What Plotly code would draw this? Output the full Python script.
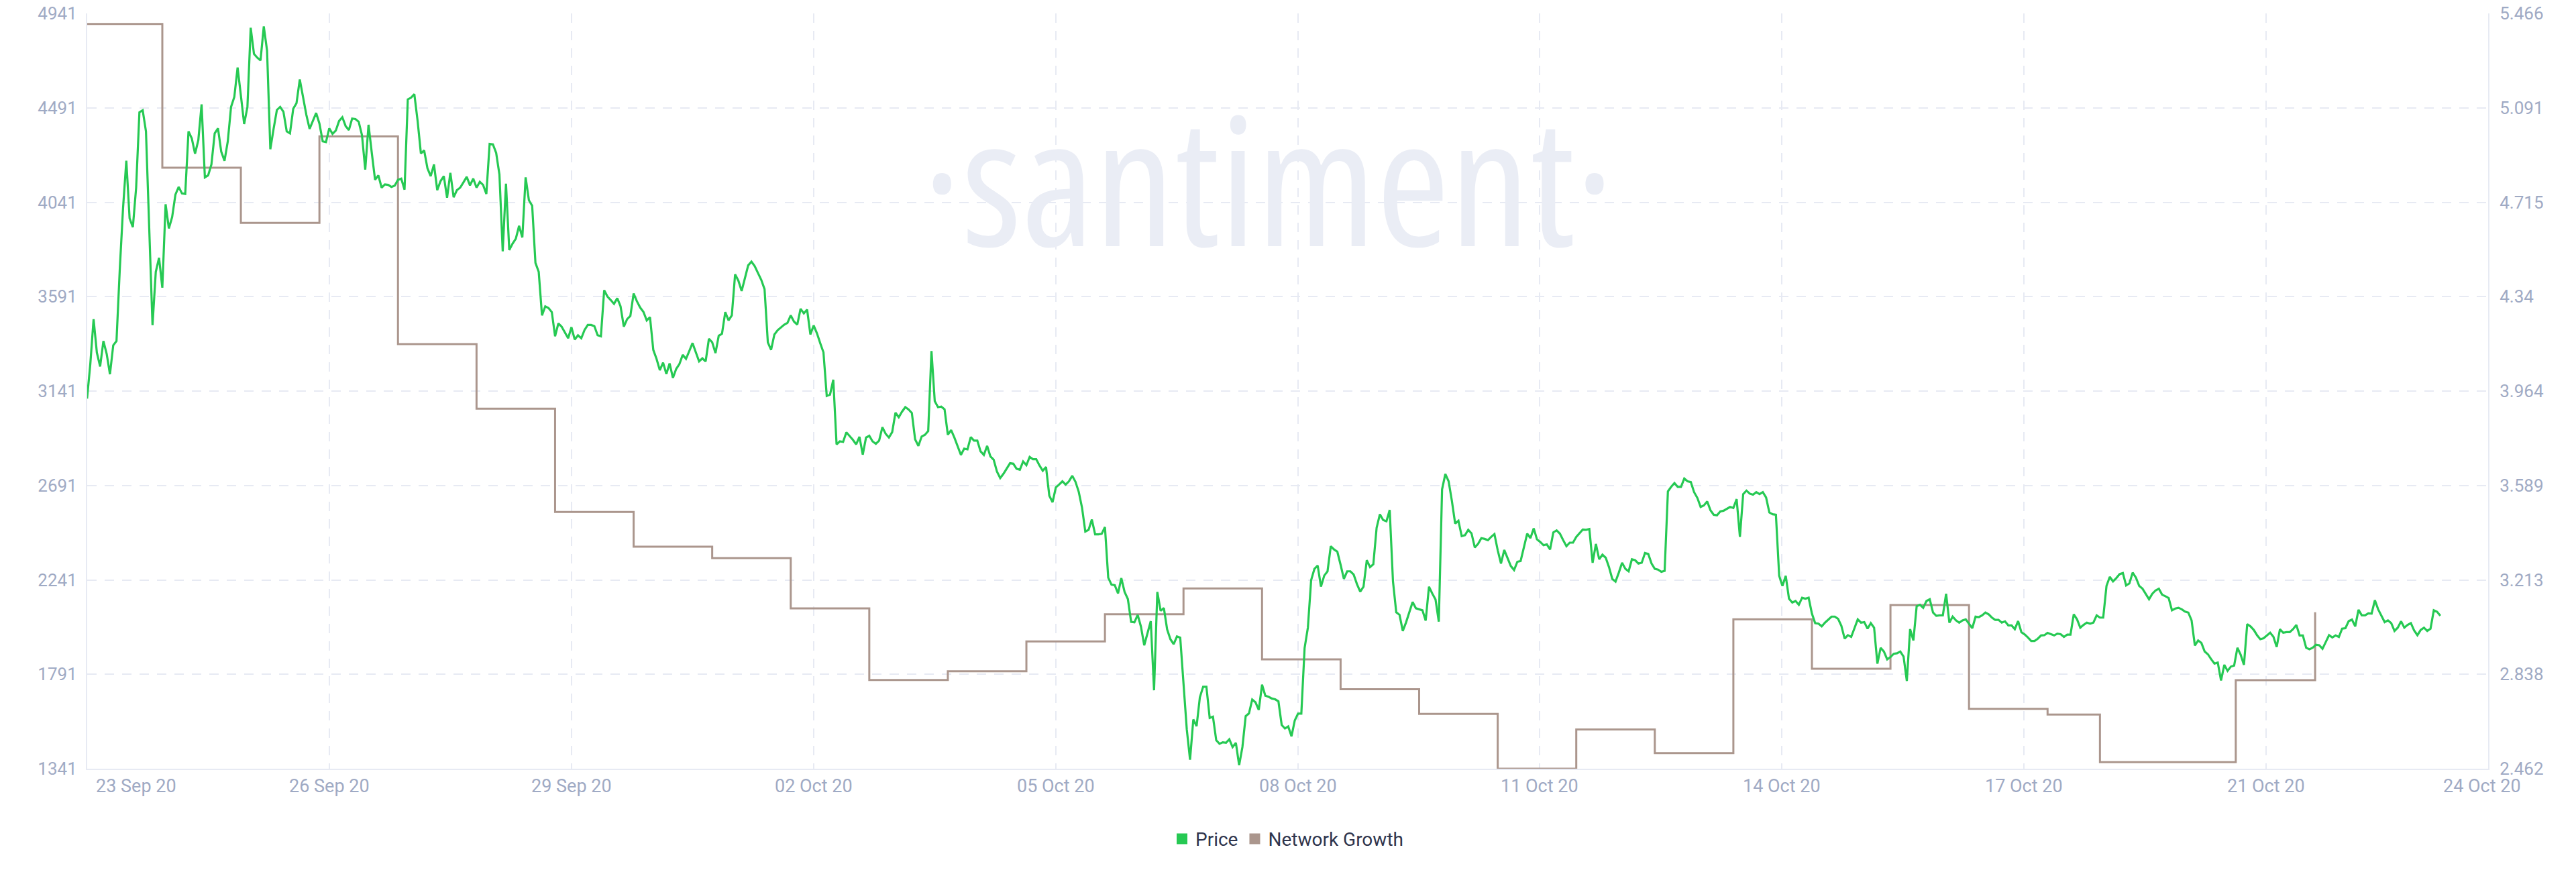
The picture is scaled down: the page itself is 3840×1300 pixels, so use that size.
import pandas as pd
import plotly.graph_objects as go

# ---------------- data ----------------
price_start = "2020-09-23 01:00"   # hourly price series start
price = [
    3.934, 4.072, 4.250, 4.117, 4.062, 4.163, 4.112, 4.031, 4.146, 4.163, 4.448, 4.692,
    4.880, 4.651, 4.616, 4.773, 5.073, 5.081, 4.997, 4.580, 4.226, 4.438, 4.494, 4.375,
    4.707, 4.611, 4.656, 4.745, 4.776, 4.750, 4.748, 4.997, 4.969, 4.908, 4.962, 5.104,
    4.814, 4.822, 4.865, 4.989, 5.009, 4.916, 4.880, 4.957, 5.094, 5.134, 5.251, 5.140,
    5.026, 5.094, 5.409, 5.305, 5.290, 5.279, 5.414, 5.318, 4.926, 5.007, 5.082, 5.094,
    5.075, 4.997, 4.989, 5.087, 5.109, 5.203, 5.134, 5.063, 5.007, 5.038, 5.070, 5.028,
    4.957, 4.954, 5.009, 4.987, 5.000, 5.038, 5.053, 5.018, 5.002, 5.048, 5.046, 5.035,
    4.982, 4.845, 5.023, 4.911, 4.804, 4.822, 4.773, 4.786, 4.784, 4.776, 4.781, 4.804,
    4.809, 4.765, 5.124, 5.131, 5.145, 5.038, 4.909, 4.921, 4.850, 4.819, 4.865, 4.763,
    4.799, 4.819, 4.733, 4.832, 4.735, 4.763, 4.773, 4.794, 4.816, 4.782, 4.809, 4.773,
    4.796, 4.784, 4.748, 4.947, 4.945, 4.911, 4.825, 4.520, 4.789, 4.525, 4.550, 4.570,
    4.621, 4.575, 4.814, 4.723, 4.701, 4.474, 4.438, 4.265, 4.301, 4.294, 4.278, 4.182,
    4.233, 4.220, 4.196, 4.174, 4.218, 4.169, 4.186, 4.174, 4.207, 4.227, 4.227, 4.222,
    4.186, 4.182, 4.365, 4.340, 4.326, 4.311, 4.333, 4.301, 4.220, 4.250, 4.263, 4.352,
    4.321, 4.296, 4.279, 4.245, 4.258, 4.128, 4.092, 4.047, 4.077, 4.032, 4.074, 4.016,
    4.052, 4.072, 4.108, 4.092, 4.123, 4.155, 4.118, 4.082, 4.094, 4.082, 4.172, 4.158,
    4.115, 4.184, 4.192, 4.278, 4.245, 4.265, 4.428, 4.403, 4.362, 4.413, 4.464, 4.479,
    4.461, 4.433, 4.406, 4.369, 4.158, 4.128, 4.189, 4.206, 4.217, 4.228, 4.235, 4.265,
    4.240, 4.228, 4.291, 4.273, 4.288, 4.189, 4.225, 4.194, 4.155, 4.118, 3.945, 3.950,
    4.009, 3.752, 3.764, 3.762, 3.800, 3.786, 3.770, 3.752, 3.782, 3.711, 3.779, 3.786,
    3.764, 3.754, 3.767, 3.820, 3.794, 3.779, 3.801, 3.878, 3.860, 3.882, 3.900, 3.891,
    3.877, 3.772, 3.746, 3.783, 3.790, 3.805, 4.123, 3.924, 3.900, 3.902, 3.891, 3.790,
    3.809, 3.779, 3.746, 3.710, 3.735, 3.732, 3.781, 3.767, 3.767, 3.724, 3.710, 3.746,
    3.704, 3.691, 3.644, 3.618, 3.635, 3.655, 3.677, 3.675, 3.655, 3.651, 3.684, 3.669,
    3.702, 3.693, 3.693, 3.668, 3.647, 3.662, 3.548, 3.522, 3.581, 3.592, 3.605, 3.592,
    3.605, 3.627, 3.603, 3.563, 3.500, 3.405, 3.412, 3.453, 3.394, 3.394, 3.396, 3.423,
    3.222, 3.194, 3.192, 3.159, 3.220, 3.165, 3.137, 3.046, 3.044, 3.074, 3.027, 2.953,
    3.000, 3.049, 2.774, 3.165, 3.090, 3.101, 3.016, 2.977, 2.957, 2.988, 2.983, 2.790,
    2.619, 2.498, 2.658, 2.631, 2.746, 2.788, 2.788, 2.664, 2.669, 2.575, 2.561, 2.567,
    2.565, 2.579, 2.548, 2.565, 2.476, 2.548, 2.671, 2.682, 2.737, 2.726, 2.696, 2.796,
    2.752, 2.748, 2.741, 2.738, 2.730, 2.636, 2.622, 2.630, 2.591, 2.654, 2.681, 2.681,
    2.942, 3.023, 3.212, 3.257, 3.270, 3.186, 3.230, 3.247, 3.347, 3.334, 3.325, 3.273,
    3.217, 3.247, 3.247, 3.234, 3.196, 3.166, 3.186, 3.291, 3.264, 3.275, 3.420, 3.474,
    3.451, 3.446, 3.491, 3.207, 3.084, 3.074, 3.010, 3.044, 3.088, 3.125, 3.100, 3.097,
    3.092, 3.051, 3.186, 3.159, 3.135, 3.047, 3.573, 3.634, 3.605, 3.527, 3.437, 3.448,
    3.387, 3.391, 3.412, 3.398, 3.342, 3.356, 3.379, 3.376, 3.371, 3.384, 3.395, 3.331,
    3.278, 3.332, 3.301, 3.268, 3.252, 3.285, 3.288, 3.347, 3.397, 3.379, 3.418, 3.374,
    3.364, 3.351, 3.354, 3.334, 3.402, 3.410, 3.397, 3.371, 3.347, 3.361, 3.361, 3.384,
    3.400, 3.413, 3.412, 3.415, 3.281, 3.356, 3.295, 3.313, 3.301, 3.264, 3.217, 3.206,
    3.242, 3.281, 3.257, 3.247, 3.295, 3.291, 3.278, 3.281, 3.320, 3.316, 3.278, 3.257,
    3.254, 3.245, 3.249, 3.565, 3.583, 3.598, 3.583, 3.583, 3.616, 3.605, 3.602, 3.562,
    3.539, 3.503, 3.509, 3.525, 3.490, 3.472, 3.470, 3.485, 3.488, 3.496, 3.503, 3.499,
    3.534, 3.384, 3.554, 3.568, 3.556, 3.552, 3.562, 3.554, 3.562, 3.541, 3.481, 3.474,
    3.472, 3.229, 3.189, 3.229, 3.138, 3.123, 3.129, 3.114, 3.142, 3.138, 3.142, 3.079,
    3.041, 3.039, 3.028, 3.043, 3.056, 3.067, 3.067, 3.058, 3.030, 2.979, 2.993, 2.986,
    3.021, 3.056, 3.043, 3.045, 3.019, 3.041, 3.023, 2.880, 2.943, 2.928, 2.897, 2.906,
    2.919, 2.921, 2.928, 2.908, 2.811, 3.017, 2.972, 3.108, 3.114, 3.102, 3.129, 3.136,
    3.083, 3.070, 3.072, 3.072, 3.158, 3.043, 3.067, 3.052, 3.043, 3.052, 3.056, 3.039,
    3.021, 3.067, 3.065, 3.072, 3.083, 3.076, 3.063, 3.054, 3.054, 3.043, 3.048, 3.032,
    3.032, 3.017, 3.049, 3.005, 2.996, 2.984, 2.970, 2.970, 2.979, 2.992, 2.993, 3.002,
    2.997, 2.992, 2.999, 2.997, 2.986, 2.995, 2.995, 3.076, 3.056, 3.023, 3.034, 3.043,
    3.039, 3.043, 3.072, 3.063, 3.063, 3.189, 3.225, 3.207, 3.220, 3.236, 3.240, 3.191,
    3.199, 3.242, 3.222, 3.189, 3.178, 3.158, 3.136, 3.158, 3.171, 3.178, 3.154, 3.148,
    3.141, 3.092, 3.099, 3.102, 3.096, 3.087, 3.083, 3.052, 2.952, 2.972, 2.962, 2.928,
    2.917, 2.897, 2.880, 2.884, 2.813, 2.875, 2.851, 2.868, 2.872, 2.943, 2.915, 2.875,
    3.037, 3.028, 3.014, 2.993, 2.977, 2.981, 2.992, 3.003, 2.987, 2.946, 3.017, 3.003,
    3.005, 3.005, 3.017, 3.034, 2.992, 2.992, 2.943, 2.937, 2.943, 2.955, 2.953, 2.939,
    2.966, 2.993, 2.984, 2.992, 2.986, 3.019, 3.021, 3.049, 3.055, 3.028, 3.094, 3.072,
    3.072, 3.080, 3.079, 3.132, 3.096, 3.072, 3.045, 3.052, 3.041, 3.010, 3.023, 3.048,
    3.023, 3.034, 3.041, 3.012, 2.993, 3.014, 3.023, 3.010, 3.019, 3.092, 3.086, 3.070,
]

ng_dates = [
    "2020-09-23 01:00", "2020-09-24 00:00", "2020-09-25 00:00", "2020-09-26 00:00", "2020-09-27 00:00",
    "2020-09-28 00:00", "2020-09-29 00:00", "2020-09-30 00:00", "2020-10-01 00:00", "2020-10-02 00:00",
    "2020-10-03 00:00", "2020-10-04 00:00", "2020-10-05 00:00", "2020-10-06 00:00", "2020-10-07 00:00",
    "2020-10-08 00:00", "2020-10-09 00:00", "2020-10-10 00:00", "2020-10-11 00:00", "2020-10-12 00:00",
    "2020-10-13 00:00", "2020-10-14 00:00", "2020-10-15 00:00", "2020-10-16 00:00", "2020-10-17 00:00",
    "2020-10-18 00:00", "2020-10-18 16:00", "2020-10-20 09:30", "2020-10-21 09:45",
]
ng_values = [
    4891, 4206, 3943, 4355, 3365, 3057, 2565, 2399, 2345, 2105,
    1764, 1805, 1948, 2077, 2200, 1862, 1720, 1602, 1341, 1528,
    1415, 2053, 1817, 2121, 1626, 1599, 1372, 1763, 2087,
]

left_tick_labels = ["1341", "1791", "2241", "2691", "3141", "3591", "4041", "4491", "4941"]
right_tick_labels = ["2.462", "2.838", "3.213", "3.589", "3.964", "4.34", "4.715", "5.091", "5.466"]
x_tick_labels = ["23 Sep 20", "26 Sep 20", "29 Sep 20", "02 Oct 20", "05 Oct 20", "08 Oct 20",
                 "11 Oct 20", "14 Oct 20", "17 Oct 20", "21 Oct 20", "24 Oct 20"]

# ---------------- styling ----------------
GREEN = "#26c953"
BROWN = "#ab968d"
AXIS_TXT = "#9faac4"
GRID = "#e7eaf3"
FONT = "Roboto, Lato, sans-serif"

price_x = pd.date_range(price_start, periods=len(price), freq="h")
ng_x = pd.to_datetime(ng_dates, format="%Y-%m-%d %H:%M")

x_start = pd.Timestamp("2020-09-23 01:03")
x_end = pd.Timestamp("2020-10-23 14:36")
tick_step = pd.Timedelta(hours=73.97)
grid_x = [x_start + k * tick_step for k in range(len(x_tick_labels) - 1)]
label_x = grid_x + [x_end]

fig = go.Figure()

fig.add_trace(go.Scatter(
    x=ng_x, y=ng_values, mode="lines", line_shape="hv",
    line=dict(color=BROWN, width=3), name="Network Growth", yaxis="y",
    showlegend=False, hoverinfo="skip",
))
fig.add_trace(go.Scatter(
    x=price_x, y=price, mode="lines",
    line=dict(color=GREEN, width=3.2), name="Price", yaxis="y2",
    showlegend=False, hoverinfo="skip",
))
# legend entries (square swatches)
fig.add_trace(go.Scatter(x=[None], y=[None], mode="markers", name="Price",
                         marker=dict(symbol="square", size=18, color=GREEN)))
fig.add_trace(go.Scatter(x=[None], y=[None], mode="markers", name="Network Growth",
                         marker=dict(symbol="square", size=18, color=BROWN)))

annotations = []
for i, (xv, txt) in enumerate(zip(label_x, x_tick_labels)):
    if i == 0:
        anchor, shift = "left", 11
    elif i == len(x_tick_labels) - 1:
        anchor, shift = "center", -9
    else:
        anchor, shift = "center", 0
    annotations.append(dict(
        x=xv, xref="x", y=0, yref="paper", yanchor="top", yshift=-8,
        xanchor=anchor, xshift=shift, text=txt, showarrow=False,
        font=dict(family=FONT, size=27, color=AXIS_TXT),
    ))

annotations.append(dict(
    x=0.492, xref="paper", y=0.783, yref="paper", xanchor="center", yanchor="middle",
    text='<span style="font-stretch:75%">·santiment·</span>', showarrow=False,
    font=dict(family="Open Sans", size=265, color="#eaedf5"),
))

fig.update_layout(
    width=3840, height=1300,
    margin=dict(l=130, r=131, t=20, b=154, autoexpand=False),
    paper_bgcolor="white", plot_bgcolor="white",
    font=dict(family=FONT, size=26, color=AXIS_TXT),
    xaxis=dict(
        type="date", range=[x_start, x_end],
        tickmode="array", tickvals=grid_x, showticklabels=False, ticks="",
        showgrid=True, gridcolor=GRID, gridwidth=2, griddash="14px,12px",
        showline=True, linecolor=GRID, linewidth=2, zeroline=False,
    ),
    yaxis=dict(
        range=[1341, 4941], tickmode="array",
        tickvals=[float(t) for t in left_tick_labels], ticktext=left_tick_labels,
        showgrid=True, gridcolor=GRID, gridwidth=2, griddash="14px,12px",
        showline=True, linecolor=GRID, linewidth=2, zeroline=False, ticks="",
        ticklabelstandoff=8, ticklabeloverflow="allow",
        tickfont=dict(family=FONT, size=26, color=AXIS_TXT),
    ),
    yaxis2=dict(
        range=[2.462, 5.466], overlaying="y", side="right", tickmode="array",
        tickvals=[float(t) for t in right_tick_labels], ticktext=right_tick_labels,
        showgrid=False, showline=True, linecolor=GRID, linewidth=2, zeroline=False,
        ticks="", ticklabelstandoff=10, ticklabeloverflow="allow",
        tickfont=dict(family=FONT, size=26, color=AXIS_TXT),
    ),
    legend=dict(
        orientation="h", x=0.5, xanchor="center", y=-0.093, yanchor="middle",
        font=dict(family=FONT, size=28, color="#2f354d"), bgcolor="rgba(0,0,0,0)",
        itemsizing="trace",
    ),
    annotations=annotations,
    showlegend=True,
)

# remove the default 8px page margin so the figure sits at the window's corner;
# hide the plotly modebar so it does not cover the top-right tick label
fig.write_html(
    "out.html",
    config={"displayModeBar": False},
    post_script="document.body.style.margin='0';",
)
